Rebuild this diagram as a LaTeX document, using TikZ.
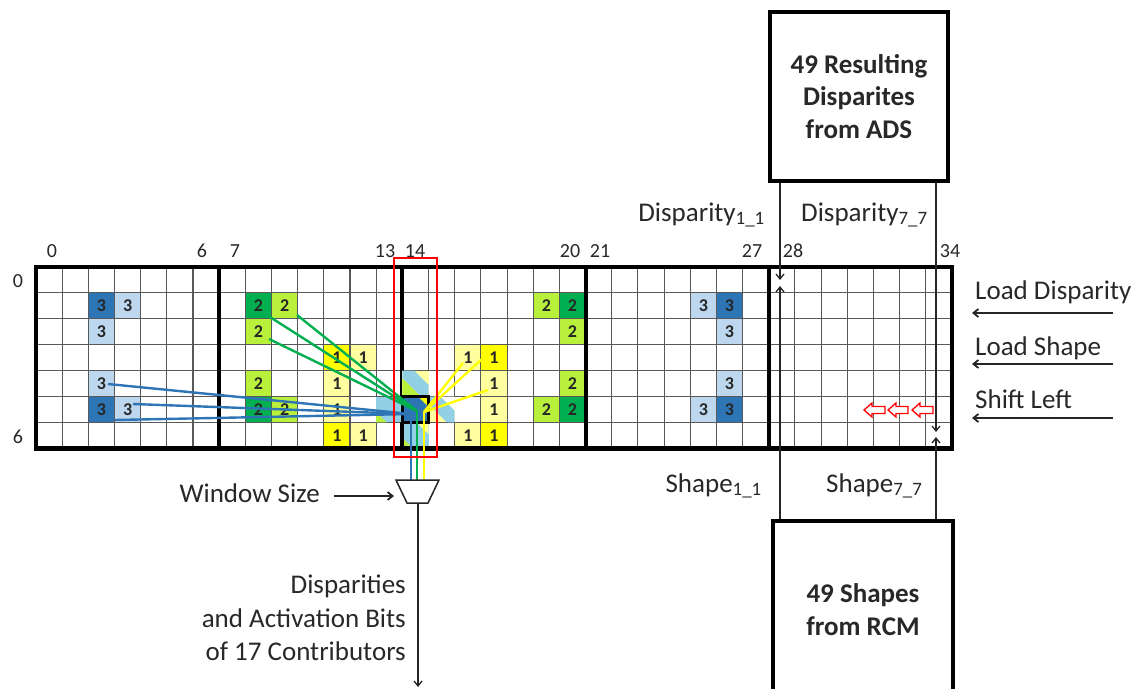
\documentclass[tikz,border=0pt]{standalone}
\usepackage{fontspec}
\setmainfont{Carlito}
\usetikzlibrary{arrows.meta}
\definecolor{dblue}{RGB}{46,117,182}
\definecolor{lblue}{RGB}{189,215,238}
\definecolor{dgreen}{RGB}{0,176,80}
\definecolor{lgreen}{RGB}{185,240,60}
\definecolor{yel}{RGB}{255,255,0}
\definecolor{lyel}{RGB}{255,255,160}
\definecolor{sky}{RGB}{146,208,230}
\definecolor{txt}{RGB}{40,40,40}
\begin{document}
\begin{tikzpicture}[x=1pt,y=-1pt,
  lab/.style={font=\fontsize{27}{33.5}\selectfont, text=txt, inner sep=0pt},
  num/.style={font=\fontsize{20}{22}\selectfont, text=txt, inner sep=0pt},
  cnum/.style={font=\fontsize{18}{20}\selectfont\bfseries, text=black!85, inner sep=0pt},
  bigbox/.style={draw=black, line width=4pt, font=\fontsize{27}{32.5}\selectfont\bfseries, align=center, text=txt, inner sep=2pt},
  wire/.style={line width=1.3pt, draw=black!85},
  lwire/.style={line width=1.8pt, draw=black!85},
  arr/.style={-{Straight Barb[length=5pt,width=8pt]}},
  gthin/.style={line width=1.1pt, draw=black!65},
  gthick/.style={line width=4pt, draw=black},
  bl/.style={line width=2.4pt, draw=dblue},
  gl/.style={line width=2.4pt, draw=dgreen},
  yl/.style={line width=2.4pt, draw=yel},
  redarr/.style={draw=red, line width=1.3pt, fill=white},
]
\useasboundingbox (0,0) rectangle (1137,688);
\clip (0,0) rectangle (1137,688);
\fill[white] (0,0) rectangle (1137,688);

\def\cells{2/1/dblue/3, 3/1/lblue/3, 2/2/lblue/3, 2/4/lblue/3, 2/5/dblue/3, 3/5/lblue/3,
 8/1/dgreen/2, 9/1/lgreen/2, 8/2/lgreen/2, 8/4/lgreen/2, 8/5/dgreen/2, 9/5/lgreen/2,
 11/3/yel/1, 12/3/lyel/1, 11/4/lyel/1, 11/5/lyel/1, 11/6/yel/1, 12/6/lyel/1,
 16/3/lyel/1, 17/3/yel/1, 17/4/lyel/1, 17/5/lyel/1, 16/6/lyel/1, 17/6/yel/1,
 19/1/lgreen/2, 20/1/dgreen/2, 20/2/lgreen/2, 20/4/lgreen/2, 19/5/lgreen/2, 20/5/dgreen/2,
 25/1/lblue/3, 26/1/dblue/3, 26/2/lblue/3, 26/4/lblue/3, 25/5/lblue/3, 26/5/dblue/3}

\begin{scope}[shift={(36,267)},x=26.17pt,y=-25.9pt]
  \foreach \cx/\cy/\cc/\ct in \cells { \fill[\cc] (\cx,\cy) rectangle ++(1,1); }
  \foreach \i in {1,...,34} \draw[gthin] (\i,0) -- (\i,7);
  \foreach \j in {1,...,6} \draw[gthin] (0,\j) -- (35,\j);
  \foreach \i in {7,14,21,28} \draw[gthick] (\i,0) -- (\i,7);
  % merged window around the centre cell
  \fill[sky] (13,5) rectangle (14,6);
  \fill[lgreen] (13,6) -- (13,5.6) -- (13.4,6) -- cycle;
  \fill[lyel] (14,4) rectangle (15,5);
  \fill[sky] (14,4) -- (14.45,4) -- (15,4.55) -- (15,5) -- (14.7,5) -- (14,4.3) -- cycle;
  \fill[lgreen] (14,4.3) -- (14.7,5) -- (14,5) -- cycle;
  \fill[lyel] (15,5) rectangle (16,6);
  \fill[white] (15.45,5) -- (16,5) -- (16,5.55) -- cycle;
  \fill[sky] (15,5) -- (15.45,5) -- (16,5.55) -- (16,6) -- (15.7,6) -- (15,5.3) -- cycle;
  \fill[sky] (14,6) rectangle (15,7);
  \fill[lgreen] (14,6.6) -- (14,7) -- (14.4,7) -- cycle;
  \fill[lyel] (14.55,6) -- (15,6) -- (15,6.45) -- cycle;
  \draw[gthick] (14,6) -- (14,7);
  \fill[dblue] (14,5) rectangle (15,6);
  \fill[yel] (14.6,5) -- (15,5) -- (15,5.4) -- cycle;
  \draw[line width=3pt] (14,5) rectangle (15,6);
  \draw[gthick, line width=4.5pt] (0,0) rectangle (35,7);
  \foreach \cx/\cy/\cc/\ct in \cells { \node[cnum] (n\cx-\cy) at (\cx+0.5,\cy+0.5) {\ct}; }
\end{scope}

% column and row numbers
\foreach \v/\xx in {0/52,6/202,7/235,13/385,14/415,20/570,21/600,27/752,28/793,34/950}
  \node[num, anchor=base] (c\v) at (\xx,257) {\v};
\node[num, anchor=base] (r0) at (18,287) {0};
\node[num, anchor=base] (r6) at (18,443) {6};

% contributor lines
\coordinate (cb) at (411,414);
\coordinate (cg) at (417,411);
\coordinate (cyl) at (424,412);
\coordinate (b1) at (108,384);
\coordinate (b2) at (133,404);
\coordinate (b3) at (115,420);
\coordinate (g1) at (270,317);
\coordinate (g2) at (297,315);
\coordinate (g3) at (269,339);
\coordinate (y1) at (463,363);
\coordinate (y2) at (482,359);
\coordinate (y3) at (488,390);
\coordinate (mb) at (411,480);
\coordinate (mg) at (417,480);
\coordinate (my) at (424,480);
\foreach \p in {b1,b2,b3} \draw[bl] (\p) -- (cb);
\foreach \p in {g1,g2,g3} \draw[gl] (\p) -- (cg);
\foreach \p in {y1,y2,y3} \draw[yl] (\p) -- (cyl);
\draw[bl] (cb) -- (mb);
\draw[gl] (cg) -- (mg);
\draw[yl] (cyl) -- (my);

% window
\draw[red, line width=2.5pt] (394,258) rectangle (437,457);

% shift arrows
\foreach \xl/\xr in {864/885, 888/908, 912/933}
  \draw[redarr] (\xl,410) -- (\xl+8,403) -- (\xl+8,406.5) -- (\xr,406.5) -- (\xr,413.5) -- (\xl+8,413.5) -- (\xl+8,417) -- cycle;

% multiplexer
\coordinate (muxout) at (418,503);
\coordinate (muxleft) at (403,496);
\draw[line width=1.5pt, draw=black!85] (396,480) -- (439,480) -- (428,503) -- (407,503) -- cycle;
\node[lab, anchor=base east] (ws) at (320,502) {Window Size};
\draw[lwire, arr] ([xshift=14pt]ws.east |- muxleft) -- ([xshift=-9pt]muxleft);
\coordinate (outend) at (418,687);
\draw[wire, arr] (muxout) -- (outend);
\node[lab, anchor=east, align=right] (dis) at (406,618) {Disparities\\and Activation Bits\\of 17 Contributors};

% boxes
\node[bigbox, minimum width=178pt, minimum height=169pt] (ads) at (859,96.5) {49 Resulting\\Disparites\\from ADS};
\node[bigbox, minimum width=180pt, minimum height=177pt, anchor=north] (rcm) at (863,519) {49 Shapes\\from RCM};

\coordinate (d11) at (780,280);
\coordinate (d77) at (936,432);
\coordinate (s11) at (780,286);
\coordinate (s77) at (936,437);
\draw[wire, arr] (ads.south -| d11) -- (d11);
\draw[wire, arr] (ads.south -| d77) -- (d77);
\draw[wire, arr] (rcm.north -| s11) -- (s11);
\draw[wire, arr] (rcm.north -| s77) -- (s77);
\node[lab, anchor=base east] (ldis11) at (765,221) {Disparity\textsubscript{1\_1}};
\node[lab, anchor=base west] (ldis77) at (801,221) {Disparity\textsubscript{7\_7}};
\node[lab, anchor=base east] (lsh11) at (762,492) {Shape\textsubscript{1\_1}};
\node[lab, anchor=base west] (lsh77) at (826,492) {Shape\textsubscript{7\_7}};

% control inputs
\node[lab, anchor=base west] (ld) at (975,299) {Load Disparity};
\node[lab, anchor=base west] (ls) at (975,355) {Load Shape};
\node[lab, anchor=base west] (sl) at (975,408) {Shift Left};
\coordinate (ldA) at (1113,313); \coordinate (ldB) at (972,313);
\coordinate (lsA) at (1113,364); \coordinate (lsB) at (972,364);
\coordinate (slA) at (1113,418); \coordinate (slB) at (972,418);
\draw[lwire, arr] (ldA) -- (ldB);
\draw[lwire, arr] (lsA) -- (lsB);
\draw[lwire, arr] (slA) -- (slB);
\end{tikzpicture}
\end{document}
